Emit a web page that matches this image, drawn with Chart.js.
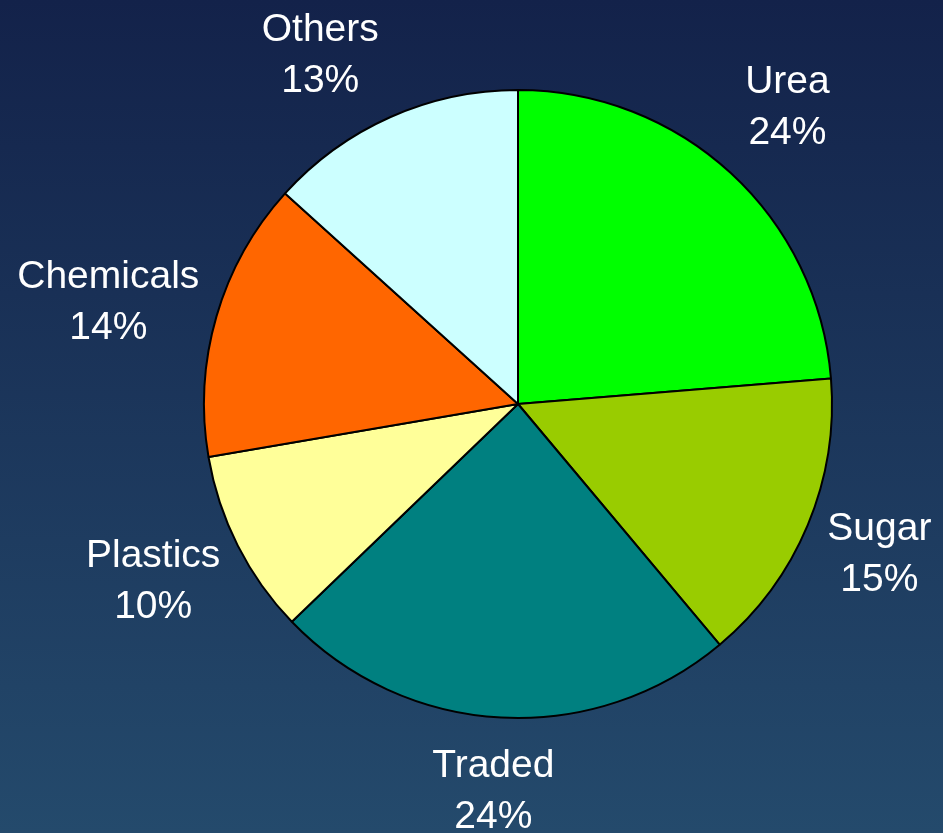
<!DOCTYPE html>
<html>
<head>
<meta charset="UTF-8">
<title>Pie chart</title>
<script src="https://cdn.jsdelivr.net/npm/chart.js@4.4.0/dist/chart.umd.min.js"></script>
<style>
    html, body { margin: 0; padding: 0; }
    body {
        width: 943px; height: 833px; overflow: hidden;
        background: linear-gradient(to bottom, #13224a, #244a6c);
    }
    #wrap { position: relative; width: 943px; height: 833px; }
</style>
</head>
<body>
<div id="wrap"><canvas id="pieChart"></canvas></div>
<script>
    const categories = ['Urea', 'Sugar', 'Traded', 'Plastics', 'Chemicals', 'Others'];
    const shares = [23.7, 15.2, 23.9, 9.5, 14.4, 13.3];
    const sliceColors = ['#00ff00', '#99cc00', '#008080', '#ffff99', '#ff6600', '#ccffff'];

    // small hand tweaks so the text boxes land where the original put them
    const labelNudge = [[7, -17], [-5, -1], [-3, 0], [3, 0], [9, 2], [-34, 0]];

    // labels sit outside each slice, box pushed away along the slice's middle direction
    const outsideLabels = {
        id: 'outsideLabels',
        afterDatasetsDraw(chart) {
            const ctx = chart.ctx;
            const meta = chart.getDatasetMeta(0);
            ctx.save();
            ctx.font = '39px "Liberation Sans", Arial, sans-serif';
            ctx.fillStyle = '#ffffff';
            ctx.textAlign = 'center';
            ctx.textBaseline = 'alphabetic';
            meta.data.forEach((arc, i) => {
                const mid = (arc.startAngle + arc.endAngle) / 2;
                const dx = Math.cos(mid), dy = Math.sin(mid);
                const r = arc.outerRadius + 31;
                const line1 = categories[i];
                const line2 = Math.round(shares[i]) + '%';
                const w = Math.max(ctx.measureText(line1).width, ctx.measureText(line2).width);
                const h = 80;
                const cx = arc.x + dx * r + dx * w / 2 + labelNudge[i][0];
                const cy = arc.y + dy * r + dy * h / 2 + labelNudge[i][1];
                ctx.fillText(line1, cx, cy - 11);
                ctx.fillText(line2, cx, cy + 40);
            });
            ctx.restore();
        }
    };

    const ctx = document.getElementById('pieChart').getContext('2d');
    new Chart(ctx, {
        type: 'pie',
        data: {
            labels: categories,
            datasets: [{
                data: shares,
                backgroundColor: sliceColors,
                borderColor: '#000000',
                borderWidth: 2,
                radius: 314
            }]
        },
        options: {
            responsive: true,
            maintainAspectRatio: false,
            animation: false,
            events: [],
            layout: { padding: { left: 93, right: 0, top: 0, bottom: 25 } },
            plugins: {
                legend: { display: false },
                tooltip: { enabled: false }
            }
        },
        plugins: [outsideLabels]
    });
</script>
</body>
</html>
